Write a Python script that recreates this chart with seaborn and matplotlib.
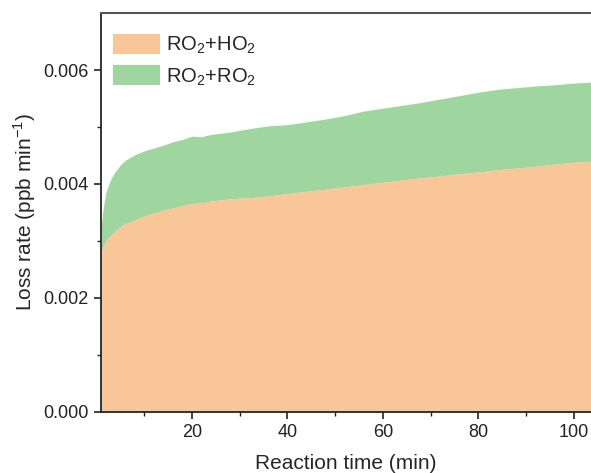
import numpy as np
import pandas as pd

import matplotlib
matplotlib.use('Agg')
import matplotlib.pyplot as plt
import seaborn as sns

## DATA
time = [1, 1.5, 2, 3, 4, 5, 6, 8, 10, 12, 14, 16, 18, 20, 22, 24, 28, 32, 36,
        40, 44, 48, 52, 56, 60, 64, 68, 72, 76, 80, 84, 88, 92, 96, 100, 104]
# loss via RO2+HO2 (lower band)
loss_ho2 = [0.00280, 0.00292, 0.00300, 0.00310, 0.00318, 0.00324, 0.00330, 0.00337,
            0.00344, 0.00349, 0.00354, 0.00358, 0.00362, 0.00366, 0.00367, 0.00370,
            0.00374, 0.00376, 0.00379, 0.00383, 0.00387, 0.00391, 0.00395, 0.00399,
            0.00403, 0.00407, 0.00411, 0.00414, 0.00418, 0.00421, 0.00425, 0.00428,
            0.00431, 0.00435, 0.00438, 0.00440]
# total loss (top of RO2+RO2 band)
loss_total = [0.00325, 0.00360, 0.00385, 0.00408, 0.00422, 0.00433, 0.00441, 0.00451,
              0.00458, 0.00463, 0.00468, 0.00474, 0.00478, 0.00484, 0.00483, 0.00487,
              0.00491, 0.00497, 0.00502, 0.00504, 0.00509, 0.00514, 0.00520, 0.00528,
              0.00533, 0.00538, 0.00543, 0.00549, 0.00555, 0.00561, 0.00566, 0.00569,
              0.00572, 0.00574, 0.00577, 0.00579]
labels = ['RO$_2$+HO$_2$', 'RO$_2$+RO$_2$']
colors = ['#F9C797', '#9FD69F']

df = pd.DataFrame({'time': time, 'ho2': loss_ho2, 'total': loss_total})

## PLOT
sns.set_style('ticks')
plt.rcParams['font.family'] = ['Liberation Sans', 'DejaVu Sans']
plt.rcParams['mathtext.fontset'] = 'custom'
plt.rcParams['mathtext.rm'] = 'Liberation Sans'

fig = plt.figure(figsize=(5.91, 4.73), dpi=100)
ax = fig.add_axes([0.171, 0.129, 0.829, 0.8435])

ax.fill_between(df['time'], 0, df['ho2'], color=colors[0], lw=0, label=labels[0])
ax.fill_between(df['time'], df['ho2'], df['total'], color=colors[1], lw=0, label=labels[1])

ax.set_xlim(1, 103.6)
ax.set_ylim(0, 0.007)
ax.set_xticks([20, 40, 60, 80, 100])
ax.set_xticks([10, 30, 50, 70, 90], minor=True)
ax.set_yticks([0, 0.002, 0.004, 0.006])
ax.set_yticks([0.001, 0.003, 0.005], minor=True)
ax.yaxis.set_major_formatter(matplotlib.ticker.FormatStrFormatter('%.3f'))

ax.tick_params(which='major', direction='out', length=5, width=1.2, labelsize=13,
               colors='#222222', pad=4)
ax.tick_params(which='minor', direction='out', length=3, width=1.0, colors='#222222')

ax.spines['right'].set_visible(False)
ax.spines['left'].set_linewidth(1.3)
ax.spines['bottom'].set_linewidth(1.3)
ax.spines['top'].set_linewidth(1.5)
ax.spines['top'].set_color('#555555')
ax.set_axisbelow(False)

ax.set_xlabel('Reaction time (min)', fontsize=15, labelpad=9)
ax.set_ylabel('Loss rate (ppb min$^{-1}$)', fontsize=15, labelpad=4)

leg = ax.legend(loc='upper left', frameon=False, fontsize=14.5, handlelength=2.35,
                handleheight=1.15, handletextpad=0.25, labelspacing=0.45,
                borderaxespad=0.2, bbox_to_anchor=(0.0, 0.977))

fig.savefig('out.png', dpi=100)
